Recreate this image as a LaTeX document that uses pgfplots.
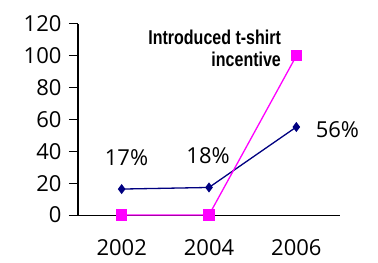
\documentclass[border=0pt]{standalone}
\usepackage{fontspec}
\setmainfont{Open Sans}
\newfontfamily\annfont[FakeStretch=0.8]{Liberation Sans}
\usepackage{pgfplots}
\pgfplotsset{compat=1.18}
\definecolor{navy}{RGB}{0,0,128}
\definecolor{magenta}{RGB}{255,0,255}
\begin{document}
\begin{tikzpicture}
\begin{axis}[
  scale only axis, width=262pt, height=191pt,
  xmin=0, xmax=3, ymin=0, ymax=120,
  axis lines=left, axis line style={-, line width=1pt},
  xtick={0.5,1.5,2.5}, xticklabels={2002,2004,2006},
  major x tick style={draw=none},
  extra x ticks={0,1,2,3}, extra x tick labels={},
  extra x tick style={major tick length=8pt, tick style={line width=1pt, black}, tick align=outside},
  ytick={0,20,...,120},
  tick align=outside, major tick length=9pt,
  tick style={line width=1pt, black},
  /pgf/number format/assume math mode=true,
  ticklabel style={font=\fontsize{22}{24}\selectfont},
  yticklabel style={xshift=-4pt},
  xticklabel style={yshift=-12pt},
  clip=false,
]
\addplot[navy, line width=1.3pt, mark=diamond*, mark size=4pt, mark options={fill=navy}]
  coordinates {(0.5,16.3) (1.5,17.3) (2.5,55.3)};
\addplot[magenta, line width=1.3pt, mark=square*, mark size=5pt, mark options={fill=magenta}]
  coordinates {(0.5,0) (1.5,0) (2.5,100)};
\node[font=\fontsize{22}{24}\selectfont] at (axis cs:0.555,36) {17\%};
\node[font=\fontsize{22}{24}\selectfont] at (axis cs:1.49,37) {18\%};
\node[font=\fontsize{22}{24}\selectfont] at (axis cs:2.97,53.5) {56\%};
\node[font=\annfont\bfseries\fontsize{20}{21}\selectfont, align=right, anchor=east, inner sep=0pt]
  at (axis cs:2.325,105) {Introduced t-shirt\\[1pt]incentive};
\end{axis}
\path ([xshift=-78pt,yshift=-47pt]current axis.south west) rectangle ([xshift=38pt,yshift=24pt]current axis.north east);
\end{tikzpicture}
\end{document}
